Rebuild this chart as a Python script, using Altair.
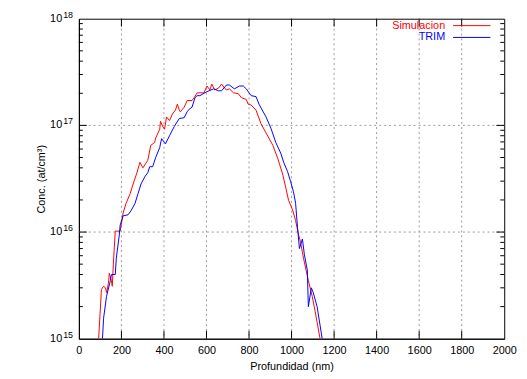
import altair as alt
import pandas as pd

# ---- data ----
series_names = ["Simulacion", "TRIM"]
series_colors = ["#ff0000", "#0000ff"]

sim_x = [93, 106, 116, 125, 130, 139, 143, 153, 157, 162, 171, 194, 199, 208, 222, 241, 255,
         273, 287, 301, 324, 338, 356, 361, 380, 384, 394, 403, 412, 426, 440, 454, 463, 472,
         477, 495, 509, 532, 542, 556, 588, 602, 616, 625, 639, 657, 671, 685, 694, 708, 727,
         750, 764, 787, 796, 810, 833, 856, 880, 912, 935, 958, 972, 986, 1005, 1019, 1032,
         1042, 1056, 1079, 1097, 1111, 1125, 1134]
sim_y = [1.0e15, 2.9e15, 3.1e15, 3.0e15, 2.7e15, 3.3e15, 4.1e15, 3.5e15, 3.1e15, 5.0e15,
         1.02e16, 1.02e16, 1.16e16, 1.51e16, 1.86e16, 2.29e16, 2.82e16, 3.6e16, 4.5e16, 4.0e16,
         4.7e16, 6.5e16, 6.9e16, 7.6e16, 9.2e16, 1.09e17, 9.8e16, 9.2e16, 1.2e17, 1.11e17,
         1.28e17, 1.39e17, 1.58e17, 1.39e17, 1.34e17, 1.48e17, 1.71e17, 1.71e17, 1.82e17,
         2.02e17, 2.02e17, 2.34e17, 2.15e17, 2.44e17, 2.15e17, 2.24e17, 2.44e17, 2.24e17,
         2.15e17, 2.2e17, 2.02e17, 1.98e17, 1.82e17, 1.75e17, 1.58e17, 1.55e17, 1.39e17,
         1.04e17, 8.5e16, 6.5e16, 4.9e16, 3.5e16, 2.65e16, 1.98e16, 1.61e16, 1.28e16, 9.6e15,
         8.1e15, 5.7e15, 3.5e15, 2.5e15, 1.8e15, 1.26e15, 1.0e15]

trim_x = [111, 116, 130, 148, 153, 171, 176, 190, 194, 208, 231, 245, 264, 278, 292, 310,
          324, 333, 347, 361, 380, 389, 403, 407, 426, 449, 472, 495, 509, 519, 532, 546, 556,
          569, 602, 634, 657, 671, 694, 708, 731, 755, 773, 787, 810, 833, 847, 880, 903, 926,
          949, 963, 981, 995, 1009, 1019, 1028, 1037, 1051, 1060, 1074, 1079, 1093, 1102, 1120,
          1134, 1144]
trim_y = [1.0e15, 1.55e15, 2.5e15, 3.5e15, 4.0e15, 4.0e15, 5.7e15, 9.4e15, 1.16e16, 1.42e16,
          1.45e16, 1.58e16, 1.86e16, 2.29e16, 2.82e16, 3.3e16, 3.6e16, 4.1e16, 4.1e16, 5.0e16,
          6.2e16, 7.5e16, 6.9e16, 6.7e16, 8.0e16, 9.8e16, 1.16e17, 1.18e17, 1.34e17, 1.42e17,
          1.48e17, 1.82e17, 1.9e17, 1.9e17, 2.07e17, 2.2e17, 2.11e17, 2.11e17, 2.39e17,
          2.39e17, 2.2e17, 2.34e17, 2.34e17, 2.2e17, 1.9e17, 1.86e17, 1.58e17, 1.2e17, 9.4e16,
          6.9e16, 5.5e16, 4.5e16, 3.7e16, 3.0e16, 2.39e16, 1.86e16, 1.11e16, 7.0e15, 8.6e15,
          6.2e15, 4.4e15, 2.0e15, 3.0e15, 2.7e15, 2.0e15, 1.34e15, 1.0e15]

x_ticks = [0, 200, 400, 600, 800, 1000, 1200, 1400, 1600, 1800, 2000]
y_ticks = [1e15, 1e16, 1e17, 1e18]
y_exponents = ["15", "16", "17", "18"]
y_minor = [m * 10.0 ** k for k in (15, 16, 17) for m in range(2, 10)]

# ---- chart ----
W, H = 432, 325
FONT = "Liberation Sans"
xs = alt.Scale(domain=[0, 2000], nice=False, zero=False)
ys = alt.Scale(type="log", domain=[1e15, 1e18], nice=False)

df = pd.concat([
    pd.DataFrame({"x": sim_x, "y": sim_y, "serie": series_names[0]}),
    pd.DataFrame({"x": trim_x, "y": trim_y, "serie": series_names[1]}),
])

lines = alt.Chart(df).mark_line(clip=True, strokeWidth=1).encode(
    x=alt.X("x:Q", scale=xs, axis=alt.Axis(
        values=x_ticks, format="d", title="Profundidad (nm)", grid=False, ticks=False,
        labelPadding=6, titlePadding=5, labelFlush=False)),
    y=alt.Y("y:Q", scale=ys, axis=alt.Axis(
        values=y_ticks, title="Conc. (at/cm³)", grid=False, ticks=False,
        labels=False, titlePadding=33)),
    color=alt.Color("serie:N", scale=alt.Scale(domain=series_names, range=series_colors),
                    legend=None),
)

# y tick labels "10" with raised exponent
dflab = pd.DataFrame({"y": y_ticks, "base": ["10"] * 4, "exp": y_exponents})
ylab_base = alt.Chart(dflab).mark_text(
    align="right", baseline="middle", font=FONT, fontSize=11, color="black", dx=-17
).encode(y=alt.Y("y:Q", scale=ys), x=alt.value(0), text="base:N")
ylab_exp = alt.Chart(dflab).mark_text(
    align="left", baseline="middle", font=FONT, fontSize=9, color="black", dx=-16, dy=-4
).encode(y=alt.Y("y:Q", scale=ys), x=alt.value(0), text="exp:N")

grid_style = dict(color="#999999", strokeDash=[2, 3], strokeWidth=1)
xgrid = alt.Chart(pd.DataFrame({"x": x_ticks[1:-1]})).mark_rule(**grid_style).encode(
    x=alt.X("x:Q", scale=xs))
ygrid = alt.Chart(pd.DataFrame({"y": y_ticks[1:-1]})).mark_rule(**grid_style).encode(
    y=alt.Y("y:Q", scale=ys))

tick_style = dict(color="black", strokeWidth=1)
dfx = pd.DataFrame({"x": x_ticks[1:-1]})
dfy = pd.DataFrame({"y": y_ticks[1:-1]})
dfm = pd.DataFrame({"y": y_minor})
xt_b = alt.Chart(dfx).mark_rule(**tick_style).encode(
    x=alt.X("x:Q", scale=xs), y=alt.value(H), y2=alt.value(H - 8))
xt_t = alt.Chart(dfx).mark_rule(**tick_style).encode(
    x=alt.X("x:Q", scale=xs), y=alt.value(0), y2=alt.value(8))
yt_l = alt.Chart(dfy).mark_rule(**tick_style).encode(
    y=alt.Y("y:Q", scale=ys), x=alt.value(0), x2=alt.value(8))
yt_r = alt.Chart(dfy).mark_rule(**tick_style).encode(
    y=alt.Y("y:Q", scale=ys), x=alt.value(W - 8), x2=alt.value(W))
ym_l = alt.Chart(dfm).mark_rule(**tick_style).encode(
    y=alt.Y("y:Q", scale=ys), x=alt.value(0), x2=alt.value(4))
ym_r = alt.Chart(dfm).mark_rule(**tick_style).encode(
    y=alt.Y("y:Q", scale=ys), x=alt.value(W - 4), x2=alt.value(W))

legend_layers = []
for i, (name, col) in enumerate(zip(series_names, series_colors)):
    yy = 7 + 12 * i
    legend_layers.append(
        alt.Chart(pd.DataFrame({"t": [name]})).mark_text(
            align="right", baseline="middle", font=FONT, fontSize=11, color=col
        ).encode(text="t:N", x=alt.value(372), y=alt.value(yy)))
    legend_layers.append(
        alt.Chart(pd.DataFrame({"t": [name]})).mark_rule(color=col, strokeWidth=1).encode(
            x=alt.value(380), x2=alt.value(418), y=alt.value(yy)))

chart = alt.layer(
    xgrid, ygrid, lines, xt_b, xt_t, yt_l, yt_r, ym_l, ym_r, ylab_base, ylab_exp,
    *legend_layers
).properties(
    width=W, height=H,
    autosize=alt.AutoSizeParams(type="none"),
    padding={"left": 72, "top": 8, "right": 15, "bottom": 36},
).configure_view(
    stroke="black", strokeWidth=1
).configure_axis(
    labelFont=FONT, titleFont=FONT, labelFontSize=11, titleFontSize=11,
    labelColor="black", titleColor="black", titleFontWeight="normal",
    domainColor="black", domainWidth=1,
)

chart.save("out.html", embed_options={"renderer": "svg", "actions": False})
